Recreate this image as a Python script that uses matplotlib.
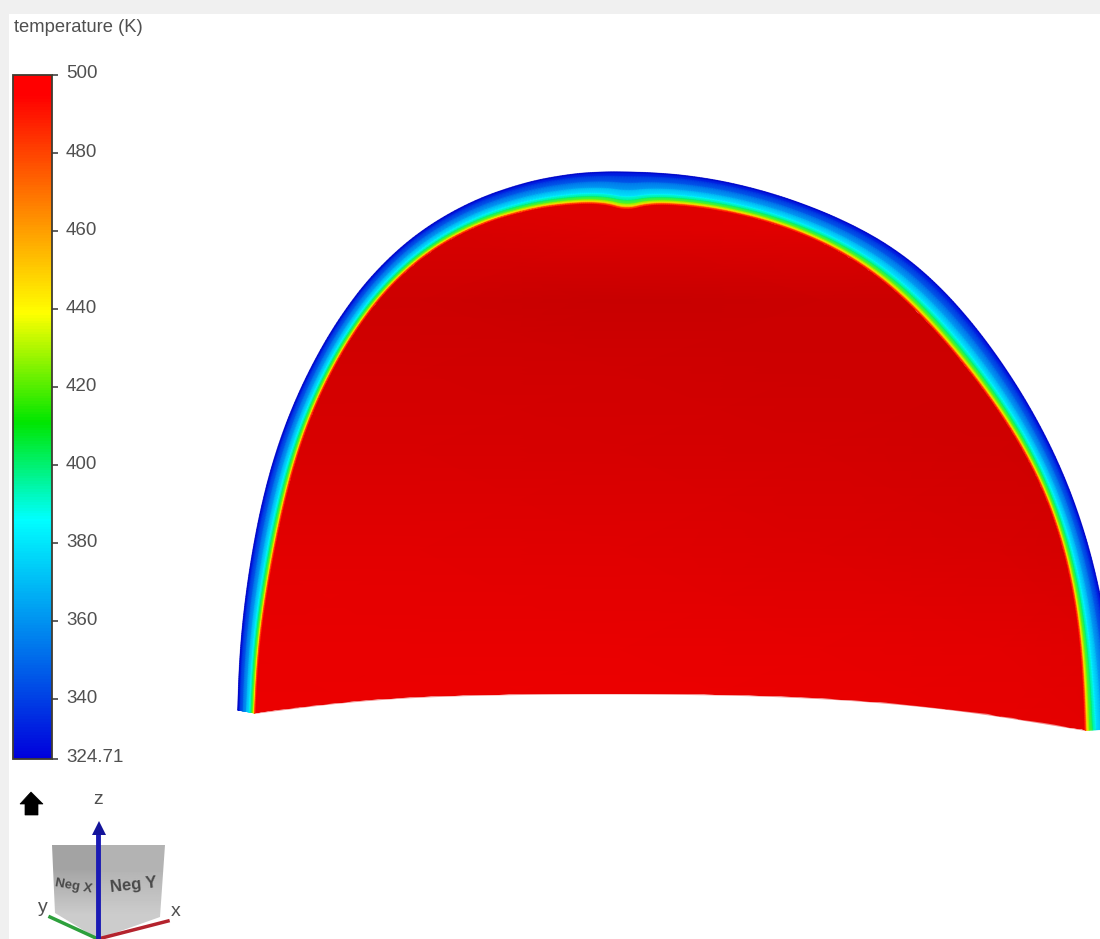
import numpy as np
import matplotlib
matplotlib.use('Agg')
import matplotlib.pyplot as plt
from matplotlib.colors import LinearSegmentedColormap
from matplotlib.patches import Polygon, Rectangle
from matplotlib.transforms import ScaledTranslation

plt.rcParams['font.family'] = ['Liberation Sans', 'DejaVu Sans']

# contorno externo e interno da parede, em pixels da imagem
outer_x = [238, 239, 241, 246, 252, 261, 273, 290, 310, 340, 370, 417, 463, 530, 575, 605, 625, 650, 685, 725,
           772, 820, 855, 887, 920, 953, 987, 1020, 1047, 1067, 1083, 1097, 1107, 1113, 1118]
outer_y = [710, 675, 640, 600, 560, 510, 460, 415, 373, 320, 278, 232, 202, 181, 176, 174, 173, 174, 176, 181,
           192, 212, 228, 246, 269, 301, 342, 392, 440, 483, 533, 580, 630, 680, 729]
inner_x = [255, 257, 259, 265, 272, 282, 292, 309, 325, 356, 386, 427, 472, 535, 578, 606, 625, 645, 678, 716,
           763, 808, 842, 872, 903, 934, 966, 997, 1023, 1045, 1061, 1073, 1080, 1083, 1085]
inner_y = [713, 677, 642, 604, 565, 516, 468, 424, 384, 331, 293, 250, 223, 209, 205, 204, 204, 204, 205, 209,
           218, 236, 254, 273, 297, 328, 368, 409, 449, 493, 540, 590, 640, 685, 730]
# reentrancia no topo do contorno interno
inner_dip = [0] * 15 + [1, 7, 1] + [0] * 17

# base da regiao vermelha
bottom_x = [255, 350, 450, 620, 800, 950, 1085]
bottom_y = [713, 701, 695, 693, 696, 708, 730]

# perfil de temperatura atraves da parede (fracao da espessura, K)
wall_frac = [0, 0.12, 0.3, 0.5, 0.68, 0.78, 0.88, 0.94, 0.98, 1.0]
wall_temp = [328, 336, 350, 366, 384, 400, 425, 445, 470, 495]

# tom de vermelho no interior
shade_x = [240, 420, 620, 820, 1000, 1100]
shade_y = [190, 230, 300, 370, 450, 550, 650, 735]
shade_r = [[225, 225, 225, 225, 225, 225],
           [215, 215, 222, 225, 215, 210],
           [205, 205, 200, 203, 205, 205],
           [210, 210, 208, 205, 205, 205],
           [216, 216, 214, 212, 208, 206],
           [226, 226, 224, 220, 216, 212],
           [233, 233, 233, 231, 228, 224],
           [236, 238, 238, 236, 232, 228]]

bar_ticks = [324.71, 340, 360, 380, 400, 420, 440, 460, 480, 500]
bar_labels = ['324.71', '340', '360', '380', '400', '420', '440', '460', '480', '500']
bar_values = [324.71, 386, 411, 439, 495, 500]
bar_colors = ['#0000dc', '#00ffff', '#00e600', '#ffff00', '#ff0000', '#ff0000']


def tirar_ruido(valores, passos=8):
    # tira o ruido da leitura sem encolher o contorno
    v = np.array(valores, float)
    for _ in range(passos):
        for peso in (0.5, -0.53):
            v[1:-1] += peso * (0.5 * (v[:-2] + v[2:]) - v[1:-1])
    return v


def suavizar(valores, passos=4):
    # corta os cantos do contorno, mantendo as pontas
    v = np.array(valores, float)
    for _ in range(passos):
        q = 0.75 * v[:-1] + 0.25 * v[1:]
        r = 0.25 * v[:-1] + 0.75 * v[1:]
        meio = np.column_stack([q, r]).ravel()
        v = np.concatenate([v[:1], meio, v[-1:]])
    return v


vmin, vmax = bar_ticks[0], bar_ticks[-1]
rainbow = LinearSegmentedColormap.from_list(
    'rainbow_k', [((v - vmin) / (vmax - vmin), c) for v, c in zip(bar_values, bar_colors)])
reds = LinearSegmentedColormap.from_list('reds_k', ['#be0000', '#f00000'])

fig = plt.figure(figsize=(11, 9.39), dpi=100, facecolor='white')
ax = fig.add_axes([0, 0, 1, 1])
ax.set_xlim(0, 1100)
ax.set_ylim(939, 0)
ax.axis('off')

# moldura cinza da captura de tela
ax.add_patch(Rectangle((0, 0), 1100, 14, fc='#f0f0f0', ec='none', zorder=0))
ax.add_patch(Rectangle((0, 0), 9, 939, fc='#f0f0f0', ec='none', zorder=0))

ox_, oy_ = suavizar(tirar_ruido(outer_x)), suavizar(tirar_ruido(outer_y))
ix_ = suavizar(tirar_ruido(inner_x))
iy_ = suavizar(tirar_ruido(inner_y) + np.array(inner_dip))
bx_, by_ = suavizar(bottom_x), suavizar(bottom_y)

# interior
sx, sy = np.meshgrid(shade_x, shade_y)
inner = ax.pcolormesh(sx, sy, np.array(shade_r, float), cmap=reds, vmin=190, vmax=240, shading='gouraud', zorder=1)
contorno = np.column_stack([np.concatenate([ix_, bx_[::-1]]), np.concatenate([iy_, by_[::-1]])])
clip = Polygon(contorno, closed=True, fc='none', ec='none', transform=ax.transData)
ax.add_patch(clip)
inner.set_clip_path(clip)
ax.plot(bx_, by_, color='#e60000', lw=1.2, alpha=0.45, zorder=1)

# parede
frac = np.array(wall_frac)[:, None]
wx = ox_ + frac * (ix_ - ox_)
wy = oy_ + frac * (iy_ - oy_)
wt = np.tile(np.array(wall_temp, float)[:, None], (1, len(ox_)))
mesh = ax.pcolormesh(wx, wy, wt, cmap=rainbow, vmin=vmin, vmax=vmax, shading='gouraud', zorder=2)
ax.plot(ox_, oy_, color='#0000b4', lw=1.2, alpha=0.45, zorder=2)

# barra de cores
cax = fig.add_axes([13 / 1100, 1 - 759 / 939, 39 / 1100, 684 / 939])
cb = fig.colorbar(mesh, cax=cax)
cb.set_ticks(bar_ticks, labels=bar_labels)
cb.ax.tick_params(length=4.5, width=1.2, color='#444444', labelcolor='#505050', labelsize=13.5, pad=5.5)
cb.outline.set_edgecolor('#403c30')
cb.outline.set_linewidth(1.3)
for lab in cax.get_yticklabels():
    lab.set_transform(lab.get_transform() + ScaledTranslation(0, 3 / 100, fig.dpi_scale_trans))

ax.text(14, 27, 'temperature (K)', fontsize=13.2, color='#505050', va='center', ha='left')

# icone da casa
ax.add_patch(Polygon([(20, 804), (31, 792), (43, 804), (38, 804), (38, 815), (25, 815), (25, 804)],
                     closed=True, fc='black', ec='black', lw=0.5, zorder=3))

# cubo de orientacao
esq = Polygon([(52, 845), (98, 845), (98, 939), (55, 913)], closed=True, fc='none', ec='none')
dir_ = Polygon([(98, 845), (165, 845), (160, 917), (98, 939)], closed=True, fc='none', ec='none')
ax.add_patch(esq)
ax.add_patch(dir_)
img = ax.imshow([[0.64], [0.8]], extent=(50, 98, 939, 845), cmap='gray', vmin=0, vmax=1,
                aspect='auto', interpolation='bilinear', zorder=3)
img.set_clip_path(esq)
img = ax.imshow([[0.7], [0.8]], extent=(98, 166, 939, 845), cmap='gray', vmin=0, vmax=1,
                aspect='auto', interpolation='bilinear', zorder=3)
img.set_clip_path(dir_)
ax.set_xlim(0, 1100)
ax.set_ylim(939, 0)

ax.text(74, 886, 'Neg X', fontsize=9.5, color='#4a4a4a', fontweight='bold', ha='center', va='center',
        rotation=-10, zorder=4)
ax.text(134, 885, 'Neg Y', fontsize=12, color='#4a4a4a', fontweight='bold', ha='center', va='center',
        rotation=6, zorder=4)

ax.plot([98, 98], [939, 832], color='#1a1ab4', lw=3.5, zorder=5, solid_capstyle='butt')
ax.add_patch(Polygon([(92, 835), (99, 821), (106, 835)], closed=True, fc='#14149b', ec='none', zorder=5))
ax.plot([98, 168], [939, 921], color='#b4232d', lw=2.5, zorder=4)
ax.plot([98, 50], [939, 917], color='#2da03c', lw=2.5, zorder=4)

ax.text(98, 800, 'z', fontsize=14, color='#505050', ha='center', va='center')
ax.text(43, 907, 'y', fontsize=14, color='#505050', ha='center', va='center')
ax.text(176, 911, 'x', fontsize=14, color='#505050', ha='center', va='center')

fig.savefig('out.png', dpi=100)
